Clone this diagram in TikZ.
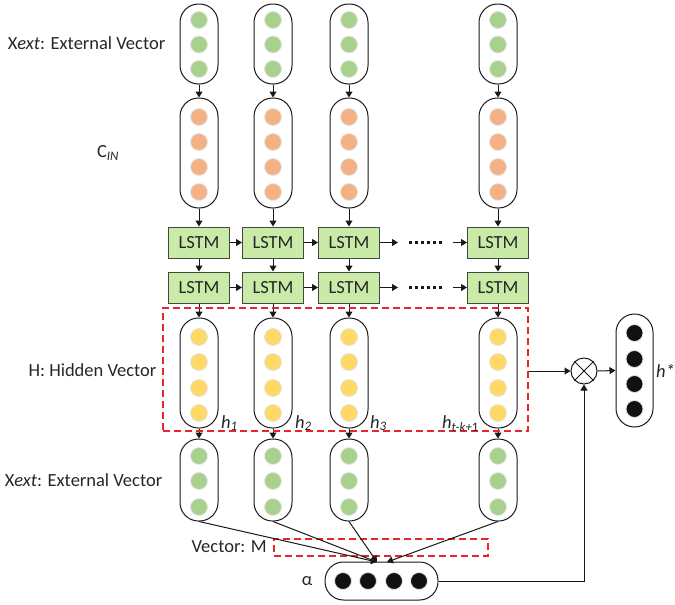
\documentclass[tikz,border=0pt]{standalone}
\usepackage{fontspec}
\setmainfont{Carlito}
\usetikzlibrary{arrows.meta,calc}
\definecolor{dotgreen}{HTML}{A9D18E}
\definecolor{dotorange}{HTML}{F4B183}
\definecolor{dotyellow}{HTML}{FFD966}
\definecolor{dotblack}{HTML}{111111}
\definecolor{lstmfill}{HTML}{C9EBA7}
\definecolor{lstmdraw}{HTML}{404A3C}
\definecolor{redline}{HTML}{E8262A}
\definecolor{txt}{HTML}{262626}
\begin{document}
\begin{tikzpicture}[x=1pt,y=-1pt,
  font=\fontsize{18.5}{22}\selectfont, text=txt,
  arr/.style={-{Triangle[length=6pt,width=7pt]},line width=1pt,draw=black!90},
  plain/.style={line width=1pt,draw=black!90},
  capsule/.style={draw=black!90,line width=1pt,rounded corners=18.5pt,minimum width=38pt,inner sep=0pt},
  dotc/.style={circle,minimum size=17pt,inner sep=0pt,fill=#1,draw=black!10,line width=0.8pt},
  lstmbox/.style={draw=lstmdraw,fill=lstmfill,line width=1pt,minimum width=61pt,minimum height=31pt,inner sep=0pt},
  redbox/.style={draw=redline,dash pattern=on 7pt off 4pt,line width=1.2pt,inner sep=0pt},
  lbl/.style={inner sep=0pt},
  dotsline/.style={line width=3pt,draw=black!90,dash pattern=on 3pt off 3pt}
]
\useasboundingbox (0,0) rectangle (675,605);

% columns
\foreach \i/\x in {1/199,2/273,3/349,4/498}{
  \node[capsule,minimum height=80pt] (g\i) at (\x,44) {};
  \foreach \y [count=\k] in {20,44.5,69}
    \node[dotc=dotgreen] (g\i d\k) at (\x,\y) {};
  \node[capsule,minimum height=110pt] (o\i) at (\x,153) {};
  \foreach \y [count=\k] in {117,142,167,192}
    \node[dotc=dotorange] (o\i d\k) at (\x,\y) {};
  \node[lstmbox] (la\i) at (\x,242.5) {LSTM};
  \node[lstmbox] (lb\i) at (\x,287.5) {LSTM};
  \node[capsule,minimum height=110pt] (y\i) at (\x,373) {};
  \foreach \y [count=\k] in {337,362,388,413}
    \node[dotc=dotyellow] (y\i d\k) at (\x,\y) {};
  \node[capsule,minimum height=82pt] (b\i) at (\x,480) {};
  \foreach \y [count=\k] in {456,481,507}
    \node[dotc=dotgreen] (b\i d\k) at (\x,\y) {};
  \draw[arr] (g\i.south) -- (o\i.north);
  \draw[arr] (o\i.south) -- (la\i.north);
  \draw[arr] (la\i.south) -- (lb\i.north);
  \draw[arr] (lb\i.south) -- (y\i.north);
  \draw[arr] (y\i.south) -- (b\i.north);
}

% horizontal LSTM links
\foreach \r/\yy in {a/242.5,b/287.5}{
  \draw[arr] (l\r1.east) -- (l\r2.west);
  \draw[arr] (l\r2.east) -- (l\r3.west);
  \coordinate (s\r1) at (398,\yy);
  \coordinate (s\r2) at (453,\yy);
  \coordinate (d\r1) at (409,\yy);
  \coordinate (d\r2) at (444,\yy);
  \draw[arr] (l\r3.east) -- (s\r1);
  \draw[dotsline] (d\r1) -- (d\r2);
  \draw[arr] (s\r2) -- (l\r4.west);
}

% hidden box
\node[redbox,minimum width=365pt,minimum height=123pt] (hbox) at (345.5,369.5) {};

% h labels
\node[lbl,anchor=base west] (h1) at (221,428) {\textit{h}\textsubscript{\textit{1}}};
\node[lbl,anchor=base west] (h2) at (295,428) {\textit{h}\textsubscript{\textit{2}}};
\node[lbl,anchor=base west] (h3) at (370,428) {\textit{h}\textsubscript{\textit{3}}};
\node[lbl,anchor=base west] (h4) at (442,428) {\textit{h}\textsubscript{\textit{t-k+}1}};

% alpha vector
\node[capsule,minimum width=113pt,minimum height=38pt] (al) at (381.5,581) {};
\foreach \x [count=\k] in {343,368,394,419}
  \node[dotc=dotblack] (al d\k) at (\x,581) {};
\node[lbl] (alab) at (307,581) {α};

% vector M box
\node[redbox,minimum width=214pt,minimum height=17pt] (mbox) at (381,547.5) {};
\node[lbl,anchor=east] (mlab) at (267,547) {Vector: M};

% lines to alpha
\coordinate (m1) at (377,562);
\coordinate (m2) at (387,562);
\draw[arr] (b1.south) -- (m1);
\draw[arr] (b2.south) -- (m1);
\draw[arr] (b3.south) -- (m1);
\draw[arr] (b4.south) -- (m2);

% otimes and h*
\node[circle,draw=black!90,line width=1pt,minimum size=26pt,inner sep=0pt] (ot) at (584,371) {};
\draw[plain] (ot.north west) -- (ot.south east);
\draw[plain] (ot.north east) -- (ot.south west);
\node[capsule,minimum width=37pt,minimum height=113pt] (hs) at (634.5,370.5) {};
\foreach \y [count=\k] in {333,359,384,409}
  \node[dotc=dotblack] (hs d\k) at (634.5,\y) {};
\node[lbl,anchor=west] (hslab) at (656,371) {\textit{h*}};
\draw[arr] (hbox.east |- ot.west) -- (ot.west);
\draw[arr] (ot.east) -- (hs.west);
\draw[arr] (al.east) -| (ot.south);

% left labels
\node[lbl] (t1) at (86.5,43) {X\textit{ext}: External Vector};
\node[lbl] (t2) at (108,153) {C\textsubscript{\textit{IN}}};
\node[lbl] (t3) at (92.5,370) {H: Hidden Vector};
\node[lbl] (t4) at (83.5,480) {X\textit{ext}: External Vector};
\end{tikzpicture}
\end{document}
